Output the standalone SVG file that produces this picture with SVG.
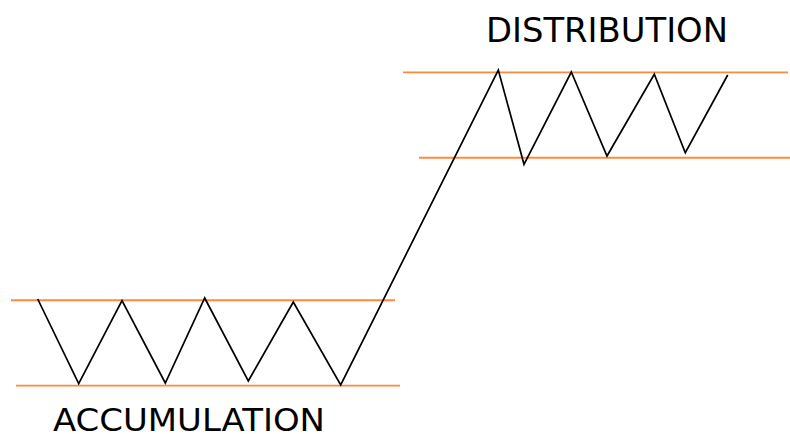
<svg xmlns="http://www.w3.org/2000/svg" width="790" height="434" viewBox="0 0 790 434">
<style>
.band{stroke:#ff8a3d;stroke-width:1.9;fill:none}
.price{stroke:#000;stroke-width:1.7;fill:none;stroke-linejoin:miter}
.lbl{font-family:"DejaVu Sans",sans-serif;fill:#000}
</style>
<rect width="790" height="434" fill="#fff"/>
<g id="accumulation-band">
<line class="band" x1="11" y1="300.3" x2="395" y2="300.3"/>
<line class="band" x1="16" y1="385.6" x2="400" y2="385.6"/>
</g>
<g id="distribution-band">
<line class="band" x1="403" y1="72.4" x2="788" y2="72.4"/>
<line class="band" x1="419" y1="157.7" x2="790" y2="157.7"/>
</g>
<g id="connectors">
<polyline class="price" points="37.7,299 78.7,383.7 122,300.7 165.3,383 204.7,298 248.3,381 293.3,302 340.7,385 498.3,70 524,164.3 571.3,72 607,156 654.3,74.3 685.3,152.7 727.7,75"/>
</g>
<g id="label-distribution">
<text class="lbl" x="486" y="42" font-size="34" textLength="242" lengthAdjust="spacingAndGlyphs">DISTRIBUTION</text>
</g>
<g id="label-accumulation">
<text class="lbl" x="53" y="430.5" font-size="32" textLength="272" lengthAdjust="spacingAndGlyphs">ACCUMULATION</text>
</g>
</svg>
